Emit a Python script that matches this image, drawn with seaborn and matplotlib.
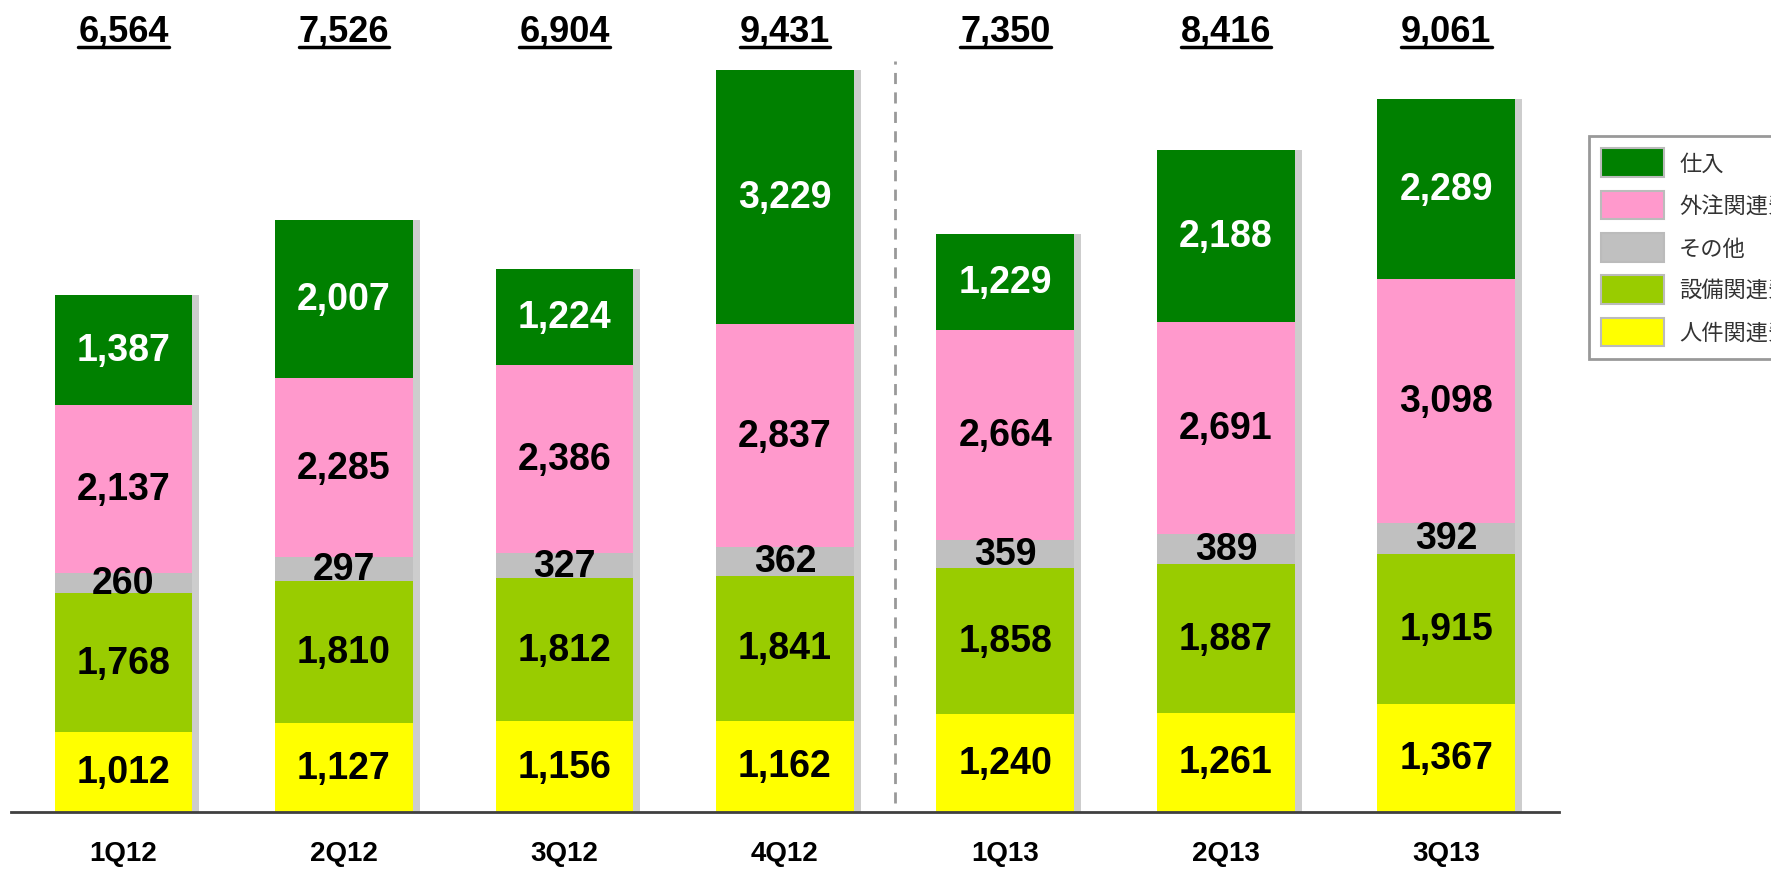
import matplotlib
matplotlib.use('Agg')
import matplotlib.pyplot as plt
import matplotlib.patheffects as pe
from matplotlib.patches import Patch
from matplotlib.lines import Line2D
import numpy as np
import seaborn as sns

# データ（単位は元資料のまま）
quarters = ["1Q12", "2Q12", "3Q12", "4Q12", "1Q13", "2Q13", "3Q13"]
jinken = [1012, 1127, 1156, 1162, 1240, 1261, 1367]      # 人件関連費
setsubi = [1768, 1810, 1812, 1841, 1858, 1887, 1915]     # 設備関連費
sonota = [260, 297, 327, 362, 359, 389, 392]             # その他
gaichu = [2137, 2285, 2386, 2837, 2664, 2691, 3098]      # 外注関連費
shiire = [1387, 2007, 1224, 3229, 1229, 2188, 2289]      # 仕入
totals = [6564, 7526, 6904, 9431, 7350, 8416, 9061]

series_names = ["人件関連費", "設備関連費", "その他", "外注関連費", "仕入"]
series_vals = [jinken, setsubi, sonota, gaichu, shiire]
colors = ["#FFFF00", "#99CC00", "#C0C0C0", "#FF99CC", "#008000"]
text_colors = ["black", "black", "black", "black", "white"]

sns.set_theme(style="white")
plt.rcParams['font.family'] = ['Liberation Sans', 'Noto Sans CJK JP', 'DejaVu Sans']

fig = plt.figure(figsize=(17.71, 8.70), dpi=100)
ax = fig.add_axes([0.0062, 0.0655, 0.874, 0.9345])

shadow = [pe.SimplePatchShadow(offset=(5, 0), shadow_rgbFace="#909090", alpha=0.45), pe.Normal()]

bottom = np.zeros(len(quarters))
for name, vals, col, tcol in zip(series_names, series_vals, colors, text_colors):
    sns.barplot(x=quarters, y=vals, bottom=bottom, color=col, width=0.625,
                saturation=1, linewidth=0, ax=ax)
    cont = ax.containers[-1]
    for p in cont.patches:
        p.set_path_effects(shadow)
    ax.bar_label(cont, labels=[f"{v:,}" for v in vals], label_type="center",
                 color=tcol, fontsize=27, fontweight="bold")
    bottom = bottom + np.array(vals)

ax.set_xlim(-0.51, 6.51)
ax.set_ylim(0, 10330)
ax.set_yticks([])
ax.set_ylabel("")
sns.despine(ax=ax, left=True, top=True, right=True)
ax.spines["bottom"].set_color("#404040")
ax.spines["bottom"].set_linewidth(2)
ax.tick_params(axis="x", length=0, pad=20)
for lab in ax.get_xticklabels():
    lab.set_fontsize(20)
    lab.set_fontweight("bold")
    lab.set_color("black")

# 期間区切りの点線
ax.axvline(3.5, ymin=0.011, ymax=0.924, color="#999999", linestyle=(0, (4, 3)), linewidth=2)

# 合計値（下線付き）
total_texts = []
for i, t in enumerate(totals):
    txt = ax.text(i, 0.961, f"{t:,}", transform=ax.get_xaxis_transform(),
                  ha="center", va="center", fontsize=26, fontweight="bold", color="black")
    total_texts.append(txt)

# 凡例
handles = [Patch(facecolor=c, edgecolor="#BBBBBB", linewidth=1.5) for c in colors][::-1]
leg = fig.legend(handles, series_names[::-1], loc="upper left",
                 bbox_to_anchor=(0.891, 0.855), frameon=True, fancybox=False,
                 fontsize=16, handlelength=2.8, handleheight=1.6, labelspacing=0.62,
                 handletextpad=0.7, borderpad=0.55, labelcolor="#333333")
leg.get_frame().set_edgecolor("#808080")
leg.get_frame().set_linewidth(2)

fig.canvas.draw()
inv = fig.transFigure.inverted()
for txt in total_texts:
    bb = txt.get_window_extent()
    (x0, y0), (x1, _) = inv.transform([(bb.x0, bb.y0 + 1), (bb.x1, bb.y0 + 1)])
    fig.add_artist(Line2D([x0, x1], [y0, y0], color="black", linewidth=2.5,
                          transform=fig.transFigure))

fig.savefig("out.png", dpi=100)
plt.close(fig)
